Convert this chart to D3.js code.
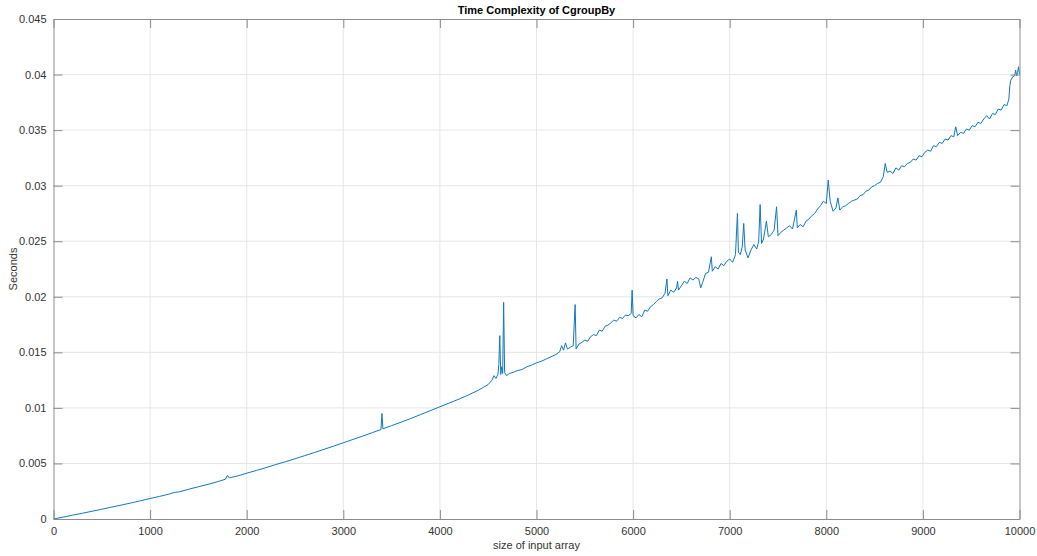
<!DOCTYPE html>
<html>
<head>
<meta charset="utf-8">
<script src="https://cdn.jsdelivr.net/npm/d3@7"></script>
<style>
  body { margin: 0; background: #fff; }
  text { font-family: "Liberation Sans", Arial, sans-serif; }
</style>
</head>
<body>
<svg id="chart" width="1037" height="556"></svg>
<script>
var title = "Time Complexity of CgroupBy"
var xLabel = "size of input array"
var yLabel = "Seconds"
var xTicks = [0, 1000, 2000, 3000, 4000, 5000, 6000, 7000, 8000, 9000, 10000]
var yTicks = [0, 0.005, 0.01, 0.015, 0.02, 0.025, 0.03, 0.035, 0.04, 0.045]

// input size
var sizes = [
  0, 100, 200, 300, 400, 500, 600, 700, 800, 900,
  1000, 1100, 1200, 1250, 1300, 1400, 1500, 1600, 1700, 1780,
  1800, 1820, 1900, 2000, 2100, 2200, 2300, 2400, 2500, 2600,
  2700, 2800, 2900, 3000, 3100, 3200, 3300, 3390, 3400, 3410,
  3500, 3600, 3700, 3800, 3900, 4000, 4100, 4200, 4300, 4400,
  4450, 4500, 4540, 4560, 4580, 4600, 4610, 4620, 4630, 4640,
  4650, 4660, 4670, 4690, 4720, 4760, 4800, 4850, 4900, 4950,
  5000, 5050, 5100, 5150, 5200, 5240, 5260, 5280, 5300, 5320,
  5350, 5380, 5400, 5410, 5440, 5470, 5500, 5530, 5560, 5590,
  5620, 5650, 5680, 5710, 5740, 5770, 5800, 5830, 5860, 5890,
  5920, 5950, 5980, 5990, 6000, 6030, 6060, 6090, 6120, 6150,
  6180, 6210, 6240, 6270, 6300, 6330, 6350, 6360, 6390, 6420,
  6450, 6460, 6470, 6500, 6530, 6560, 6590, 6620, 6650, 6680,
  6700, 6720, 6750, 6780, 6810, 6820, 6850, 6880, 6910, 6940,
  6970, 7000, 7030, 7060, 7080, 7090, 7110, 7130, 7145, 7160,
  7190, 7220, 7250, 7280, 7300, 7315, 7330, 7350, 7380, 7400,
  7430, 7460, 7485, 7500, 7530, 7560, 7590, 7620, 7650, 7690,
  7700, 7730, 7760, 7790, 7820, 7850, 7880, 7910, 7940, 7970,
  8000, 8020, 8040, 8070, 8100, 8120, 8140, 8170, 8200, 8230,
  8260, 8290, 8320, 8350, 8380, 8410, 8440, 8470, 8500, 8530,
  8560, 8590, 8610, 8630, 8660, 8690, 8720, 8750, 8780, 8810,
  8840, 8870, 8900, 8930, 8960, 8990, 9020, 9050, 9080, 9110,
  9140, 9170, 9200, 9230, 9260, 9290, 9320, 9340, 9360, 9390,
  9420, 9450, 9480, 9510, 9540, 9570, 9600, 9630, 9660, 9690,
  9720, 9750, 9780, 9810, 9840, 9870, 9890, 9900, 9910, 9930,
  9950, 9960, 9970, 9980, 9990, 10000
]

// time in seconds for each size
var seconds = [
  0, 0.00017, 0.00035, 0.00052, 0.0007, 0.00088, 0.00107, 0.00125, 0.00144, 0.00164,
  0.00184, 0.00204, 0.00225, 0.00239, 0.00244, 0.00268, 0.0029, 0.00312, 0.00336, 0.00358,
  0.00392, 0.0037, 0.00386, 0.00412, 0.00437, 0.00462, 0.0049, 0.00515, 0.00542, 0.0057,
  0.00598, 0.00627, 0.00656, 0.00686, 0.00716, 0.00746, 0.00777, 0.00805, 0.0095, 0.00812,
  0.0084, 0.00872, 0.00905, 0.0094, 0.00975, 0.0101, 0.01045, 0.0108, 0.01118, 0.0116,
  0.01185, 0.0121, 0.0125, 0.0129, 0.01265, 0.013, 0.0139, 0.0165, 0.013, 0.0137,
  0.0131, 0.0195, 0.0132, 0.0129, 0.0131, 0.0132, 0.01335, 0.01345, 0.0137, 0.01385,
  0.01405, 0.0142, 0.0144, 0.0146, 0.0148, 0.01505, 0.0156, 0.0152, 0.01585, 0.0153,
  0.01545, 0.0156, 0.0193, 0.0153, 0.01575, 0.0159, 0.0161, 0.016, 0.0164, 0.0166,
  0.0165, 0.017, 0.0169, 0.01735, 0.01745, 0.01765, 0.0179, 0.0178, 0.01815, 0.01805,
  0.01835, 0.0183, 0.0185, 0.0206, 0.0183, 0.0181, 0.0184, 0.0182, 0.0188, 0.0187,
  0.0191, 0.0193, 0.01955, 0.0198, 0.0199, 0.0203, 0.0216, 0.0201, 0.0206, 0.0204,
  0.0208, 0.0214, 0.0206, 0.021, 0.0214, 0.0212, 0.0217, 0.0215, 0.02175, 0.0216,
  0.0208, 0.0213, 0.0221, 0.0222, 0.0236, 0.0223, 0.0227, 0.0225, 0.023, 0.0228,
  0.0232, 0.0234, 0.0231, 0.0238, 0.0275, 0.024, 0.0238, 0.0245, 0.0266, 0.0242,
  0.0235, 0.0242, 0.0247, 0.0243, 0.025, 0.0283, 0.0248, 0.0252, 0.0268, 0.0254,
  0.0256, 0.026, 0.0281, 0.0255, 0.0258, 0.026, 0.0262, 0.0264, 0.0261, 0.0278,
  0.0262, 0.0265, 0.0263, 0.0268, 0.027, 0.0273, 0.0275, 0.0279, 0.0282, 0.0286,
  0.0284, 0.0305, 0.0286, 0.0277, 0.028, 0.0289, 0.0278, 0.0281, 0.0282, 0.0284,
  0.0286, 0.0287, 0.0288, 0.0291, 0.0292, 0.0295, 0.0296, 0.0299, 0.03, 0.0302,
  0.0303, 0.0308, 0.032, 0.0312, 0.0313, 0.0311, 0.0316, 0.0314, 0.0318, 0.0317,
  0.032, 0.0321, 0.0324, 0.0323, 0.0327, 0.0326, 0.033, 0.0332, 0.0331, 0.0336,
  0.0335, 0.0339, 0.0338, 0.0342, 0.0341, 0.0345, 0.0344, 0.0353, 0.0345, 0.0348,
  0.0347, 0.0351, 0.035, 0.0354, 0.0353, 0.0357, 0.0356, 0.036, 0.0363, 0.036,
  0.0365, 0.0364, 0.0369, 0.0368, 0.0373, 0.0372, 0.0378, 0.039, 0.0395, 0.0398,
  0.0399, 0.0404, 0.0399, 0.0402, 0.0407, 0.04
]

var svg = d3.select("#chart"),
    margin = {top: 19, right: 17.5, bottom: 37, left: 53.5},
    width = svg.attr("width") - margin.left - margin.right,
    height = svg.attr("height") - margin.top - margin.bottom,
    g = svg.append("g").attr("transform", "translate(" + margin.left + "," + margin.top + ")");

var x = d3.scaleLinear().domain([0, 10000]).range([0, width]),
    y = d3.scaleLinear().domain([0, 0.045]).range([height, 0]);

var data = sizes.map(function(s, i) { return {size: s, sec: seconds[i]}; });

// grid
g.append("g").selectAll("line").data(xTicks.slice(1, -1)).enter().append("line")
  .attr("x1", function(d) { return x(d); }).attr("x2", function(d) { return x(d); })
  .attr("y1", 0).attr("y2", height)
  .attr("stroke", "#e6e6e6").attr("stroke-width", 1);
g.append("g").selectAll("line").data(yTicks.slice(1, -1)).enter().append("line")
  .attr("y1", function(d) { return y(d); }).attr("y2", function(d) { return y(d); })
  .attr("x1", 0).attr("x2", width)
  .attr("stroke", "#e6e6e6").attr("stroke-width", 1);

var line = d3.line()
  .x(function(d) { return x(d.size); })
  .y(function(d) { return y(d.sec); });

g.append("path").datum(data)
  .attr("fill", "none")
  .attr("stroke", "#0f78c0")
  .attr("stroke-width", 1)
  .attr("stroke-linejoin", "round")
  .attr("d", line);

function styleAxis(sel) {
  sel.selectAll("path").attr("stroke", "#8c8c8c");
  sel.selectAll("line").attr("stroke", "#8c8c8c");
  sel.selectAll("text").attr("fill", "#333").style("font-size", "11px")
    .style("font-family", "'Liberation Sans', Arial, sans-serif");
}

g.append("g").attr("transform", "translate(0," + height + ")")
  .call(d3.axisBottom(x).tickValues(xTicks).tickSize(-9).tickSizeOuter(0).tickPadding(8).tickFormat(d3.format("d")))
  .call(styleAxis);
g.append("g")
  .call(d3.axisTop(x).tickValues(xTicks).tickSize(-9).tickSizeOuter(0).tickFormat(""))
  .call(styleAxis);
g.append("g")
  .call(d3.axisLeft(y).tickValues(yTicks).tickSize(-9).tickSizeOuter(0).tickPadding(7).tickFormat(d3.format("~g")))
  .call(styleAxis);
g.append("g").attr("transform", "translate(" + width + ",0)")
  .call(d3.axisRight(y).tickValues(yTicks).tickSize(-9).tickSizeOuter(0).tickFormat(""))
  .call(styleAxis);

svg.append("text")
  .attr("x", margin.left + width / 2).attr("y", 14)
  .attr("text-anchor", "middle")
  .style("font-size", "11px").style("font-weight", "bold").attr("fill", "#000")
  .text(title);

svg.append("text")
  .attr("x", margin.left + width / 2).attr("y", 549)
  .attr("text-anchor", "middle")
  .style("font-size", "11px").attr("fill", "#333")
  .text(xLabel);

svg.append("text")
  .attr("transform", "translate(17," + (margin.top + height / 2) + ") rotate(-90)")
  .attr("text-anchor", "middle")
  .style("font-size", "11px").attr("fill", "#333")
  .text(yLabel);
</script>
</body>
</html>
